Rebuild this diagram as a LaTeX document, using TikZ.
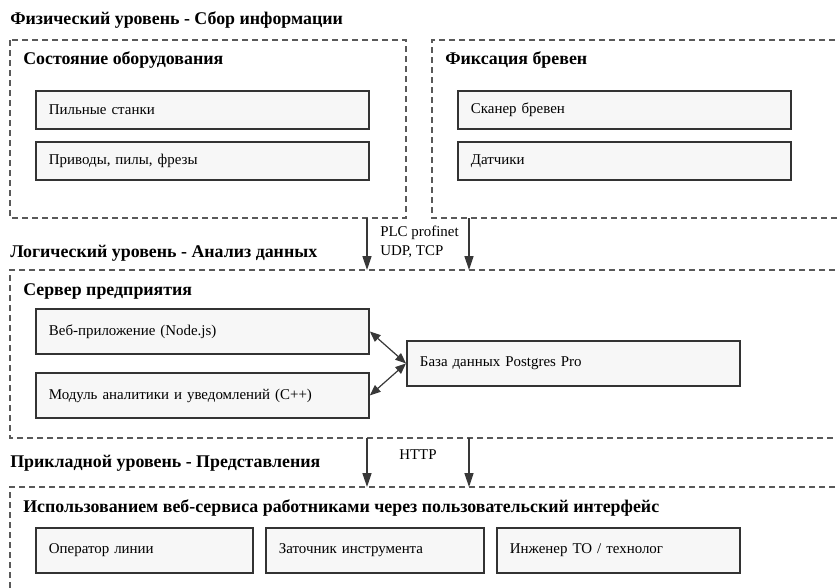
\documentclass[tikz,border=0pt]{standalone}
\usepackage{fontspec}
\setmainfont{Liberation Serif}
\usetikzlibrary{arrows.meta}

\tikzset{
  unitbox/.style={draw=black!80, line width=1.4pt, fill=black!3, anchor=north west,
    inner xsep=9.75pt, inner ysep=0pt, text width=#1, align=left,
    font=\fontsize{11.2}{13}\selectfont},
  group/.style={draw=black!65, dash pattern=on 4.5pt off 3pt, line width=0.9pt},
  head/.style={anchor=west, inner sep=0pt, font=\bfseries\fontsize{13.4}{15}\selectfont},
  note/.style={anchor=west, inner sep=0pt, font=\fontsize{11.2}{13}\selectfont},
  flow/.style={draw=black!78, line width=0.9pt, -{Triangle[length=10.5pt,width=6.8pt]}},
  link/.style={draw=black!78, line width=0.9pt, {Triangle[length=8pt,width=6.5pt]}-{Triangle[length=8pt,width=6.5pt]}}
}

\begin{document}
\begin{tikzpicture}[x=0.75pt,y=-0.75pt]
\clip (0,0) rectangle (837,587);

% physical level
\node [head] (phys) at (10,20) {Физический уровень - Сбор информации};
\draw [group] (10,40) rectangle (406,218);
\draw [group] (845,40) -- (432,40) -- (432,218) -- (845,218);
\node [head] (equip) at (23,60) {Состояние оборудования};
\node [head] (logs) at (445,60) {Фиксация бревен};
\node [unitbox=230.25pt, minimum height=28.5pt] (saws) at (35,90) {Пильные станки};
\node [unitbox=230.25pt, minimum height=28.5pt] (drives) at (35,141) {Приводы, пилы, фрезы};
\node [unitbox=230.25pt, minimum height=28.5pt] (scanner) at (457,90) {Сканер бревен};
\node [unitbox=230.25pt, minimum height=28.5pt] (sensors) at (457,141) {Датчики};

% physical -> logical
\coordinate (plcA) at (367,218);
\coordinate (plcB) at (367,270);
\coordinate (plcC) at (469,218);
\coordinate (plcD) at (469,270);
\draw [flow] (plcA) -- (plcB);
\draw [flow] (plcC) -- (plcD);
\node [note] (plc) at (380,233) {PLC profinet};
\node [note] (udp) at (380,252) {UDP, TCP};

% logical level
\node [head] (logic) at (10,253) {Логический уровень - Анализ данных};
\draw [group] (845,270) -- (10,270) -- (10,438) -- (845,438);
\node [head] (server) at (23,291) {Сервер предприятия};
\node [unitbox=230.25pt, minimum height=33.75pt] (webapp) at (35,308) {Веб-приложение (Node.js)};
\node [unitbox=230.25pt, minimum height=33.75pt] (analytics) at (35,372) {Модуль аналитики и уведомлений (C++)};
\node [unitbox=230.25pt, minimum height=33.75pt] (db) at (406,340) {База данных Postgres Pro};
\draw [link] (webapp.east) -- (db.west);
\draw [link] (analytics.east) -- (db.west);

% logical -> application
\coordinate (httpA) at (367,438);
\coordinate (httpB) at (367,487);
\coordinate (httpC) at (469,438);
\coordinate (httpD) at (469,487);
\draw [flow] (httpA) -- (httpB);
\draw [flow] (httpC) -- (httpD);
\node [note] (http) at (399,455) {HTTP};

% application level
\node [head] (app) at (10,463) {Прикладной уровень - Представления};
\draw [group] (845,487) -- (10,487) -- (10,600);
\node [head] (ui) at (23,508) {Использованием веб-сервиса работниками через пользовательский интерфейс};
\node [unitbox=143.25pt, minimum height=33.75pt] (operator) at (35,527) {Оператор линии};
\node [unitbox=144pt, minimum height=33.75pt] (sharpener) at (265,527) {Заточник инструмента};
\node [unitbox=162.75pt, minimum height=33.75pt] (engineer) at (496,527) {Инженер ТО / технолог};
\end{tikzpicture}
\end{document}
